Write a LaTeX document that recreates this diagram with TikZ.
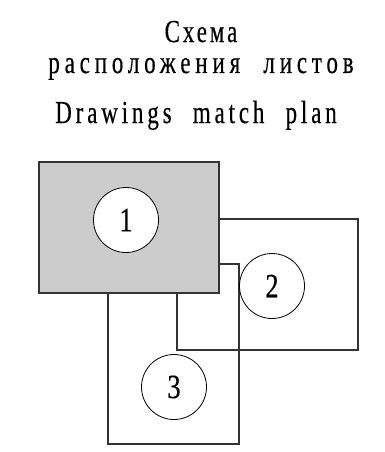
\documentclass[tikz,border=0pt]{standalone}
\usepackage{fontspec}
\setmainfont[FakeStretch=0.72,LetterSpace=9,WordSpace=2.2,FakeBold=0.4]{Liberation Serif}
\newfontfamily\numfont[FakeStretch=0.78,FakeBold=0.4]{Liberation Serif}
\begin{document}
\begin{tikzpicture}[x=1pt,y=-1pt,
  sheet/.style={draw=black!80,line width=1.1pt},
  num/.style={circle,draw=black,fill=white,line width=0.8pt,minimum size=65pt,inner sep=0pt,font=\numfont\fontsize{34}{36}\selectfont},
  title/.style={font=\fontsize{32}{34}\selectfont,inner sep=0pt,anchor=base}]
\useasboundingbox (0,0) rectangle (384,452);
% sheet outlines
\draw[sheet] (108,264) rectangle (239,444);
\draw[sheet] (177,219) rectangle (358,350);
\draw[sheet,fill=black!20] (39,162) rectangle (219,293);
% sheet numbers
\node[num] (n1) at (126,220) {1};
\node[num] (n2) at (272,286) {2};
\node[num] (n3) at (174,387) {3};
% headings
\node[title] (t1) at (201,42) {Схема};
\node[title] (t2) at (201,73) {\addfontfeature{LetterSpace=15}расположения листов};
\node[title] (t3) at (196,123) {\addfontfeature{LetterSpace=12}Drawings match plan};
\end{tikzpicture}
\end{document}
